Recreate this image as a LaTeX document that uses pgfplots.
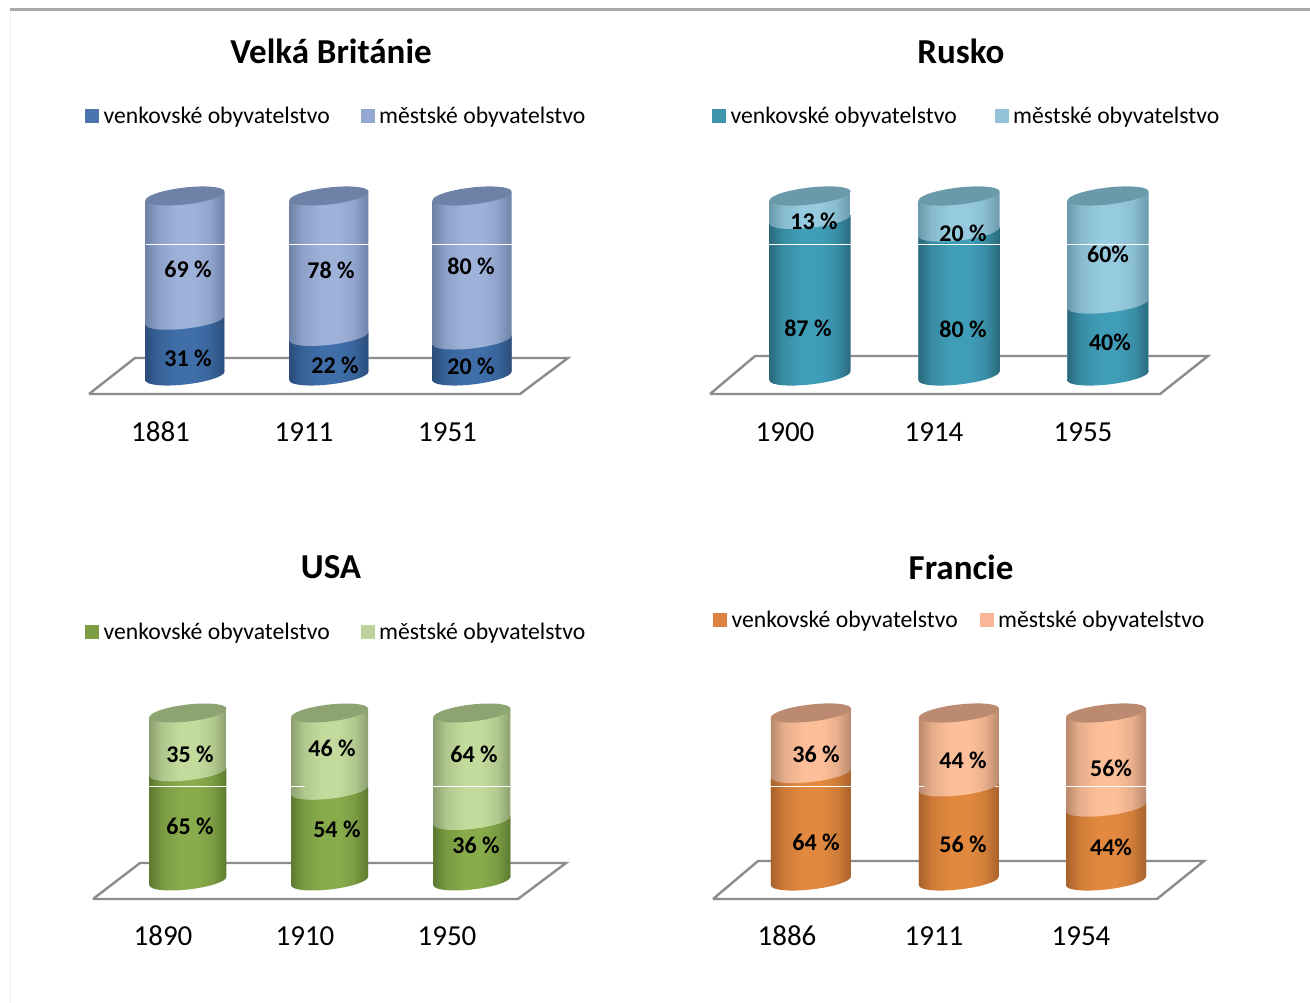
\documentclass[border=0pt]{standalone}
\usepackage{fontspec}
\setmainfont{Carlito}
\usepackage{pgfplots}
\pgfplotsset{compat=1.18}
% colours: d dark, de dark edge, l light, le light edge, c cap, s/t legend swatches
\definecolor{Ad}{HTML}{3F6EA9}\definecolor{Ade}{HTML}{2A4D7A}\definecolor{Al}{HTML}{9EB1D9}\definecolor{Ale}{HTML}{6F82A8}\definecolor{Ac}{HTML}{6F81A7}\definecolor{As}{HTML}{4A74AD}\definecolor{At}{HTML}{95A8D2}
\definecolor{Bd}{HTML}{409DB8}\definecolor{Bde}{HTML}{2A6A7D}\definecolor{Bl}{HTML}{96CBDF}\definecolor{Ble}{HTML}{6A9AAB}\definecolor{Bc}{HTML}{6A9AAA}\definecolor{Bs}{HTML}{3F95AC}\definecolor{Bt}{HTML}{92C3D6}
\definecolor{Cd}{HTML}{88AB4B}\definecolor{Cde}{HTML}{5C7A30}\definecolor{Cl}{HTML}{C2DB9C}\definecolor{Cle}{HTML}{8CA070}\definecolor{Cc}{HTML}{8DA472}\definecolor{Cs}{HTML}{7E9E45}\definecolor{Ct}{HTML}{BCD49A}
\definecolor{Dd}{HTML}{E2893F}\definecolor{Dde}{HTML}{A8622C}\definecolor{Dl}{HTML}{FDBF99}\definecolor{Dle}{HTML}{B98A6E}\definecolor{Dc}{HTML}{BB8A70}\definecolor{Ds}{HTML}{DC8343}\definecolor{Dt}{HTML}{FBB596}
\definecolor{floorgray}{HTML}{8C8C8C}\definecolor{rulegray}{HTML}{AAAAAA}
% #1 colour name, #2 edge colour: horizontal cylinder shading (bbox = 25bp..75bp)
\newcommand\cylshade[2]{\pgfdeclarehorizontalshading{#1sh}{100bp}{color(0bp)=(#2);color(25bp)=(#2);color(33bp)=(#1!65!#2);color(45bp)=(#1);color(56bp)=(#1);color(66bp)=(#1!70!#2);color(75bp)=(#2);color(100bp)=(#2)}}
\cylshade{Ad}{Ade}\cylshade{Al}{Ale}\cylshade{Bd}{Bde}\cylshade{Bl}{Ble}
\cylshade{Cd}{Cde}\cylshade{Cl}{Cle}\cylshade{Dd}{Dde}\cylshade{Dl}{Dle}
% #1 prefix, #2 half width: the three tilted ellipses of one panel
\newcommand\cylmarks[2]{%
  \pgfdeclareplotmark{#1capd}{\pgfpathellipse{\pgfpointorigin}{\pgfpoint{#2pt}{0.11*#2pt}}{\pgfpoint{0pt}{8.5pt}}\pgfshadepath{#1dsh}{0}\pgfusepath{discard}}%
  \pgfdeclareplotmark{#1capl}{\pgfpathellipse{\pgfpointorigin}{\pgfpoint{#2pt}{0.11*#2pt}}{\pgfpoint{0pt}{8.5pt}}\pgfshadepath{#1lsh}{0}\pgfusepath{discard}}%
  \pgfdeclareplotmark{#1capc}{\pgfpathellipse{\pgfpointorigin}{\pgfpoint{#2pt}{0.11*#2pt}}{\pgfpoint{0pt}{8.5pt}}\pgfsetfillcolor{#1c}\pgfusepath{fill}}}
\cylmarks{A}{39.5}\cylmarks{B}{40.5}\cylmarks{C}{38.5}\cylmarks{D}{40}
\pgfplotsset{
  panel/.style={clip=false,axis line style={draw=none},major tick length=0pt,ytick=\empty,xtick={0,1,2},
    xmin=-0.6,xmax=3,ymin=-14,ymax=105,anchor=origin,
    title style={anchor=center,font=\fontsize{35}{40}\selectfont\bfseries,inner sep=0pt,yshift=-6pt},
    typeset ticklabels with strut,
    xticklabel style={font=\fontsize{29}{33}\selectfont,yshift=-14pt},
    legend cell align=left,
    legend style={draw=none,fill=none,anchor=west,legend columns=2,font=\fontsize{23.7}{28}\selectfont,inner sep=0pt}},
  lbl/.style={draw=none,mark=none,forget plot,nodes near coords,point meta=explicit symbolic,
    every node near coord/.append style={anchor=center,inner sep=0pt,black,font=\fontsize{24}{28}\selectfont\bfseries}},
  floor/.style={forget plot,mark=none,draw=floorgray,line width=2.4pt,line join=miter},
  artefact/.style={forget plot,mark=none,white,line width=1pt}}
% one cylinder: #1 prefix, #2 half width, #3 x unit, #4 x, #5 rural %, #6 urban %
\newcommand\cyl[6]{%
  \addplot[ybar,forget plot,bar width=2*#2pt,bar shift=0pt,draw=none,shade,shading=#1lsh,cm={1,0.11,0,1,(0pt,{-0.11*(#4+0.6)*#3pt})}] table[header=false,row sep=\\,x index=0,y expr=\thisrowno{1}+\thisrowno{2}] {#4 #5 #6\\};
  \addplot[ybar,forget plot,bar width=2*#2pt,bar shift=0pt,draw=none,shade,shading=#1dsh,cm={1,0.11,0,1,(0pt,{-0.11*(#4+0.6)*#3pt})}] table[header=false,row sep=\\,x index=0,y index=1] {#4 #5 #6\\};
  \addplot[forget plot,only marks,mark=#1capd] table[header=false,row sep=\\,x index=0,y expr=0] {#4 #5 #6\\};
  \addplot[forget plot,only marks,mark=#1capl] table[header=false,row sep=\\,x index=0,y index=1] {#4 #5 #6\\};
  \addplot[forget plot,only marks,mark=#1capc] table[header=false,row sep=\\,x index=0,y expr=\thisrowno{1}+\thisrowno{2}] {#4 #5 #6\\};
}
\newcommand\swatches[1]{%
  \addlegendimage{legend image code/.code={\fill[#1s] (0pt,-6.5pt) rectangle (13pt,6.5pt);\path (16pt,0pt);}}\addlegendentry{venkovské obyvatelstvo}
  \addlegendimage{legend image code/.code={\fill[#1t] (0pt,-6.5pt) rectangle (13pt,6.5pt);\path (16pt,0pt);}}\addlegendentry{městské obyvatelstvo}
}
\begin{document}
\begin{tikzpicture}[x=1pt,y=1pt]
\path[use as bounding box] (0,0) rectangle (1310,1003);
\fill[white] (0,0) rectangle (1310,1003);
\draw[gray!15,line width=1pt] (10.5,0) -- (10.5,993);
\draw[rulegray,line width=2.5pt] (10,993.5) -- (1310,993.5);

\begin{axis}[panel,at={(160.5pt,627pt)},x=143.5pt,y=1.8pt,xticklabels={1881,1911,1951},
  title={Velká Británie},title style={at={(axis cs:1.188,180.6)}},
  legend style={at={(axis cs:-0.526,144.4)},/tikz/every even column/.append style={column sep=29pt}}]
\addplot[floor] coordinates {(-0.498,-10)(2.505,-10)(2.840,10)(-0.178,10)(-0.498,-10)};
\cyl{A}{39.5}{143.5}{0.171}{31}{69}
\cyl{A}{39.5}{143.5}{1.174}{22}{78}
\cyl{A}{39.5}{143.5}{2.171}{20}{80}
\addplot[artefact] coordinates {(-0.1,72.8)(2.45,72.8)};
\addplot[lbl] coordinates {(0.192,59.4)[69~\%] (0.192,10)[31~\%] (1.188,58.9)[78~\%] (1.216,6.1)[22~\%] (2.164,61.1)[80~\%] (2.164,5.6)[20~\%]};
\swatches{A}
\end{axis}

\begin{axis}[panel,at={(785pt,627pt)},x=149pt,y=1.8pt,xticklabels={1900,1914,1955},
  title={Rusko},title style={at={(axis cs:1.181,180.6)}},
  legend style={at={(axis cs:-0.49,144.4)},/tikz/every even column/.append style={column sep=36pt}}]
\addplot[floor] coordinates {(-0.503,-10)(2.517,-10)(2.839,11.1)(-0.201,11.1)(-0.503,-10)};
\cyl{B}{40.5}{149}{0.168}{87}{13}
\cyl{B}{40.5}{149}{1.168}{80}{20}
\cyl{B}{40.5}{149}{2.168}{40}{60}
\addplot[artefact] coordinates {(-0.11,72.8)(2.45,72.8)};
\addplot[lbl] coordinates {(0.195,86.1)[13~\%] (0.154,26.7)[87~\%] (1.195,79.4)[20~\%] (1.195,26.1)[80~\%] (2.168,67.8)[60\%] (2.181,18.9)[40\%]};
\swatches{B}
\end{axis}

\begin{axis}[panel,at={(163pt,122pt)},x=142pt,y=1.68pt,xticklabels={1890,1910,1950},
  title={USA},title style={at={(axis cs:1.183,186.9)}},
  legend style={at={(axis cs:-0.549,148.2)},/tikz/every even column/.append style={column sep=29pt}}]
\addplot[floor] coordinates {(-0.493,-10.7)(2.5,-10.7)(2.838,10.7)(-0.162,10.7)(-0.493,-10.7)};
\cyl{C}{38.5}{142}{0.176}{65}{35}
\cyl{C}{38.5}{142}{1.173}{54}{46}
\cyl{C}{38.5}{142}{2.176}{36}{64}
\addplot[artefact] coordinates {(-0.1,56.5)(2.45,56.5)};
\addplot[lbl] coordinates {(0.19,75.6)[35~\%] (0.19,32.7)[65~\%] (1.19,79.2)[46~\%] (1.225,31)[54~\%] (2.19,75.6)[64~\%] (2.204,21.4)[36~\%]};
\swatches{C}
\end{axis}

\begin{axis}[panel,at={(787pt,122pt)},x=147pt,y=1.68pt,xticklabels={1886,1911,1954},
  title={Francie},title style={at={(axis cs:1.184,186.9)}},
  legend style={at={(axis cs:-0.503,155.4)},/tikz/every even column/.append style={column sep=20pt}}]
\addplot[floor] coordinates {(-0.503,-10.7)(2.517,-10.7)(2.837,11.9)(-0.197,11.9)(-0.503,-10.7)};
\cyl{D}{40}{147}{0.163}{64}{36}
\cyl{D}{40}{147}{1.170}{56}{44}
\cyl{D}{40}{147}{2.170}{44}{56}
\addplot[artefact] coordinates {(-0.11,56.5)(2.45,56.5)};
\addplot[lbl] coordinates {(0.197,75.6)[36~\%] (0.197,23.2)[64~\%] (1.197,72)[44~\%] (1.197,22)[56~\%] (2.204,67.3)[56\%] (2.204,20.2)[44\%]};
\swatches{D}
\end{axis}
\end{tikzpicture}
\end{document}
